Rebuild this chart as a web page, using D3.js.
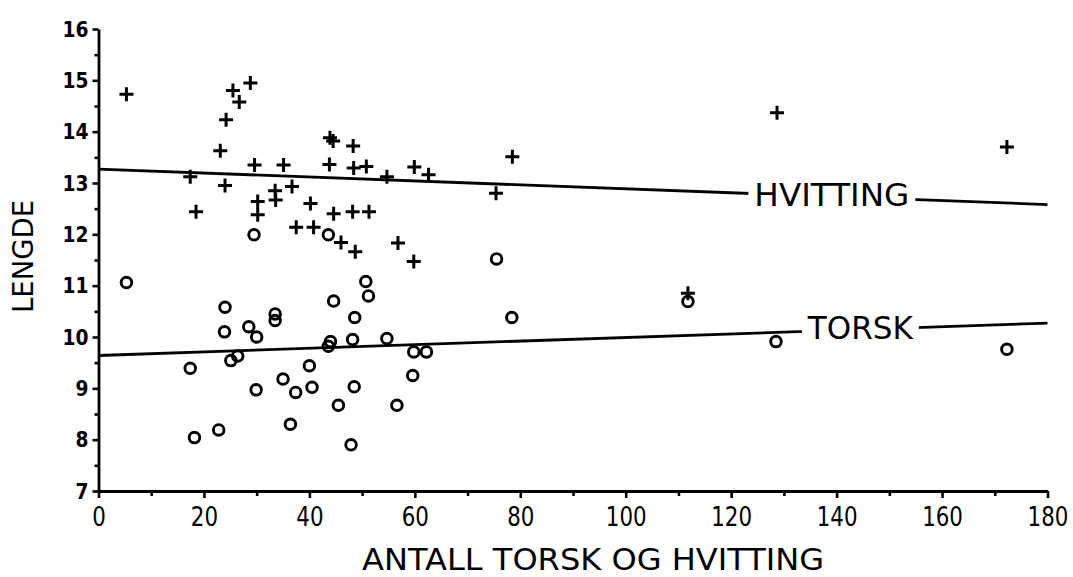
<!DOCTYPE html>
<html><head><meta charset="utf-8">
<script src="https://cdn.jsdelivr.net/npm/d3@7"></script>
<style>
body{margin:0;background:#fff}
svg{display:block}
text{font-family:'DejaVu Sans',sans-serif;fill:#000}
</style>
</head><body>
<svg id="c" width="1073" height="577"></svg>
<script>
// HVITTING (whiting) observations: number caught vs. mean length
const hvittingX = [5.3,17.4,18.5,23.1,24.0,24.2,25.5,26.7,28.8,29.6,30.2,30.2,33.5,33.6,35.1,36.7,37.5,40.2,40.8,43.8,43.9,44.5,44.6,46.0,48.3,48.4,48.2,48.7,50.8,51.3,54.7,56.8,59.8,59.9,62.6,75.4,78.5,111.8,128.7,172.3];
const hvittingY = [14.73,13.12,12.44,13.63,12.95,14.23,14.80,14.58,14.95,13.35,12.64,12.38,12.85,12.67,13.35,12.93,12.14,12.60,12.14,13.36,13.88,13.82,12.40,11.84,13.72,13.29,12.44,11.66,13.32,12.44,13.12,11.83,11.47,13.31,13.16,12.80,13.51,10.85,14.37,13.70];
// TORSK (cod) observations
const torskX = [5.3,17.4,18.2,22.8,23.9,24.0,25.1,26.4,28.5,29.5,29.9,30.0,33.5,33.5,35.0,36.4,37.4,40.0,40.5,43.6,43.6,44.0,44.6,45.5,47.9,48.2,48.5,48.6,50.7,51.2,54.7,56.6,59.6,59.8,62.2,75.5,78.4,111.8,128.5,172.3];
const torskY = [11.06,9.39,8.04,8.19,10.10,10.58,9.54,9.63,10.20,11.99,8.97,10.00,10.45,10.32,9.18,8.30,8.92,9.44,9.02,11.99,9.82,9.91,10.70,8.67,7.90,9.95,9.03,10.38,11.08,10.80,9.97,8.67,9.25,9.71,9.71,11.52,10.38,10.69,9.91,9.76];
// fitted lines (endpoints)
const fitX = [0, 180];
const hvittingFit = [13.27, 12.58];
const torskFit = [9.64, 10.27];
// labels
const hvittingLabel = "HVITTING", hvittingLabelX = 139.1;
const torskLabel = "TORSK", torskLabelX = 144.5;
const xTickValues = [0,20,40,60,80,100,120,140,160,180];
const xMinorTicks = [10,30,50,70,90,110,130,150,170];
const yTickValues = [7,8,9,10,11,12,13,14,15,16];
const yMinorTicks = [7.5,8.5,9.5,10.5,11.5,12.5,13.5,14.5,15.5];
const xTitle = "ANTALL TORSK OG HVITTING";
const yTitle = "LENGDE";

const svg = d3.select("#c");
const x = d3.scaleLinear().domain([0,180]).range([98.5,1047.5]);
const y = d3.scaleLinear().domain([7,16]).range([491,29]);

// fitted lines
function fitLine(vals){ return fitX.map((v,i)=>[v, vals[i]]); }
const line = d3.line().x(d=>x(d[0])).y(d=>y(d[1]));
[hvittingFit, torskFit].forEach(f=>{
  svg.append("path").attr("d", line(fitLine(f))).attr("fill","none").attr("stroke","#000").attr("stroke-width",2.8);
});

// line labels with knockout
function lineLabel(txt, lx, fit, len){
  const ly = y(fit[0] + (fit[1]-fit[0])*(lx-fitX[0])/(fitX[1]-fitX[0]));
  const cx = x(lx);
  svg.append("rect").attr("x", cx-len/2-6).attr("y", ly-6).attr("width", len+12).attr("height", 12).attr("fill","#fff");
  svg.append("text").attr("x", cx).attr("y", ly+9).attr("text-anchor","middle")
    .attr("font-size", 32).attr("textLength", len).attr("lengthAdjust","spacingAndGlyphs").text(txt);
}
lineLabel(hvittingLabel, hvittingLabelX, hvittingFit, 155);
lineLabel(torskLabel, torskLabelX, torskFit, 105);

// markers
const hv = hvittingX.map((v,i)=>[v, hvittingY[i]]);
const to = torskX.map((v,i)=>[v, torskY[i]]);
svg.append("g").selectAll("path").data(hv).join("path")
  .attr("d", d=>{const cx=x(d[0]), cy=y(d[1]); return `M${cx-7},${cy}H${cx+7}M${cx},${cy-7}V${cy+7}`;})
  .attr("stroke","#000").attr("stroke-width",3).attr("fill","none");
svg.append("g").selectAll("circle").data(to).join("circle")
  .attr("cx", d=>x(d[0])).attr("cy", d=>y(d[1])).attr("r",5.3)
  .attr("fill","none").attr("stroke","#000").attr("stroke-width",2.9);

// axes
const gx = svg.append("g").attr("transform","translate(0,491)");
gx.call(d3.axisBottom(x).tickValues(xTickValues).tickSize(7).tickSizeOuter(0).tickPadding(10).tickFormat(d3.format("d")));
gx.append("g").call(d3.axisBottom(x).tickValues(xMinorTicks).tickSize(5).tickSizeOuter(0).tickFormat(""))
  .select(".domain").remove();
gx.selectAll("text").attr("font-size",26).attr("fill","#000").attr("dy","0.71em")
  .attr("textLength", function(){ return this.textContent.length*13.6; }).attr("lengthAdjust","spacingAndGlyphs")
  .style("font-family","'DejaVu Sans',sans-serif");
gx.selectAll(".domain").attr("stroke-width",2.8);
gx.selectAll(".tick line").attr("stroke-width",2.6);

const gy = svg.append("g").attr("transform","translate(98.5,0)");
gy.call(d3.axisLeft(y).tickValues(yTickValues).tickSize(6).tickSizeOuter(0).tickPadding(4).tickFormat(d3.format("d")));
gy.append("g").call(d3.axisLeft(y).tickValues(yMinorTicks).tickSize(4).tickSizeOuter(0).tickFormat(""))
  .select(".domain").remove();
gy.selectAll("text").attr("font-size",22).attr("fill","#000").attr("font-weight","bold")
  .attr("textLength", function(){ return this.textContent.length*13; }).attr("lengthAdjust","spacingAndGlyphs")
  .style("font-family","'DejaVu Sans',sans-serif");
gy.selectAll(".domain").attr("stroke-width",2.8);
gy.selectAll(".tick line").attr("stroke-width",2.6);

// titles
svg.append("text").attr("x", 593).attr("y", 570).attr("text-anchor","middle")
  .attr("font-size",30).attr("textLength",462).attr("lengthAdjust","spacingAndGlyphs").text(xTitle);
svg.append("text").attr("transform","translate(33,256.5) rotate(-90)").attr("text-anchor","middle")
  .attr("font-size",28).attr("textLength",113).attr("lengthAdjust","spacingAndGlyphs").text(yTitle);
</script>
</body></html>
